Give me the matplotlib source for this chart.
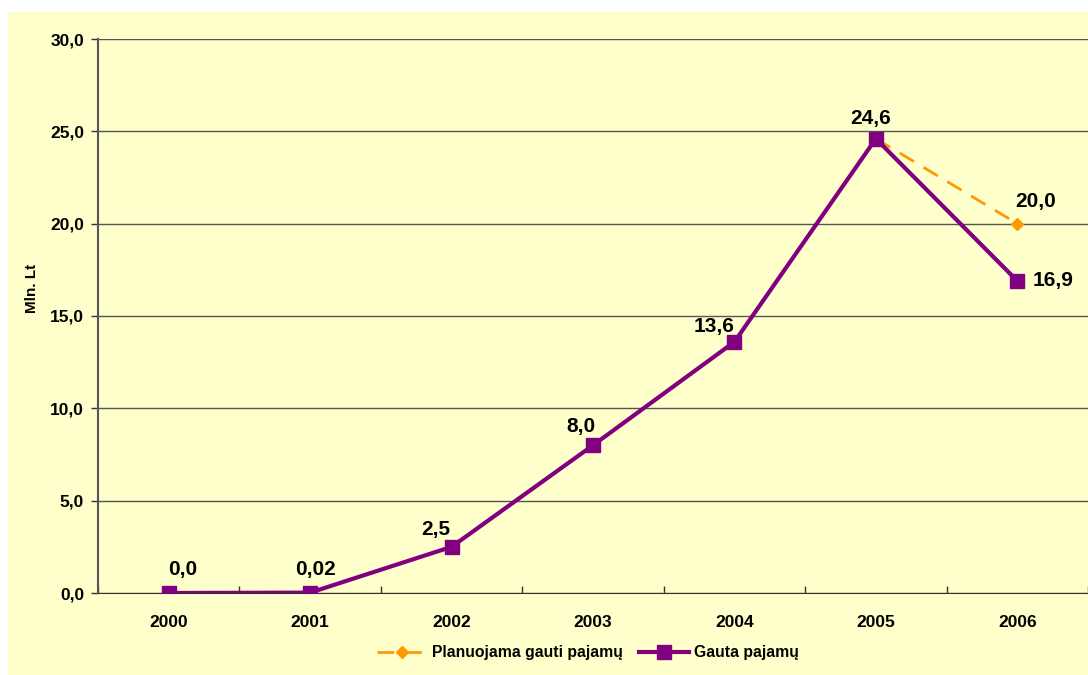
import numpy as np
import matplotlib
matplotlib.use('Agg')
import matplotlib.pyplot as plt
from matplotlib.patches import Rectangle

years = ['2000', '2001', '2002', '2003', '2004', '2005', '2006']
planned = [np.nan, np.nan, np.nan, np.nan, np.nan, 24.6, 20.0]
received = [0.0, 0.02, 2.5, 8.0, 13.6, 24.6, 16.9]
received_labels = ['0,0', '0,02', '2,5', '8,0', '13,6', '24,6', '16,9']
planned_labels = [None, None, None, None, None, None, '20,0']

plt.rcParams['font.family'] = ['Liberation Sans', 'DejaVu Sans']
plt.rcParams['font.weight'] = 'bold'

fig = plt.figure(figsize=(10.88, 6.75), dpi=100)
fig.patch.set_facecolor('white')
fig.patches.append(Rectangle((8 / 1088, 0), 1, 1 - 12 / 675, transform=fig.transFigure,
                             facecolor='#FFFFCC', edgecolor='none', zorder=-1))

ax = fig.add_axes([98 / 1088, 1 - 593 / 675, 990 / 1088, 554 / 675])
ax.set_facecolor('#FFFFCC')

x = np.arange(len(years))
ax.plot(x, planned, color='#FF9900', linestyle=(0, (6, 4)), linewidth=2,
        marker='D', markersize=6, label='Planuojama gauti pajamų', zorder=3)
ax.plot(x, received, color='#800080', linewidth=3, marker='s', markersize=10,
        label='Gauta pajamų', zorder=4)

# label offsets in points (dx, dy, ha, va)
offsets = [(10, 10, 'center', 'bottom'), (4, 10, 'center', 'bottom'),
           (-11, 6, 'center', 'bottom'), (-9, 7, 'center', 'bottom'),
           (-15, 4, 'center', 'bottom'), (-4, 8, 'center', 'bottom'),
           (11, 0, 'left', 'center')]
for i, (v, t) in enumerate(zip(received, received_labels)):
    dx, dy, ha, va = offsets[i]
    ax.annotate(t, (i, v), xytext=(dx, dy), textcoords='offset points',
                ha=ha, va=va, fontsize=15, fontweight='bold')
for i, (v, t) in enumerate(zip(planned, planned_labels)):
    if t:
        ax.annotate(t, (i, v), xytext=(13, 9), textcoords='offset points',
                    ha='center', va='bottom', fontsize=15, fontweight='bold')

ax.set_xlim(-0.5, len(years) - 0.5)
ax.set_ylim(0, 30)
ax.set_yticks(np.arange(0, 30.1, 5))
ax.set_yticklabels([f'{v:.1f}'.replace('.', ',') for v in np.arange(0, 30.1, 5)],
                   fontsize=12.5, fontweight='bold')
ax.set_xticks(x)
ax.set_xticklabels(years, fontsize=12.5, fontweight='bold')
ax.set_xticks(np.arange(-0.5, len(years), 1), minor=True)
ax.tick_params(axis='x', which='major', length=0, pad=16)
ax.tick_params(axis='x', which='minor', length=5, width=1, color='#333333', direction='in')
ax.tick_params(axis='y', length=5, width=1, color='#333333', pad=5)
ax.grid(axis='y', color='#555555', linewidth=1)
ax.set_axisbelow(True)
for s in ['top', 'right']:
    ax.spines[s].set_visible(False)
ax.spines['left'].set_color('#555555')
ax.spines['left'].set_linewidth(1.5)
ax.spines['bottom'].set_color('#333333')
fig.text(32 / 1088, 1 - 288 / 675, 'Mln. Lt', rotation=90, ha='center', va='center',
         fontsize=11, fontweight='bold')

leg = fig.legend(loc='center', bbox_to_anchor=(588 / 1088, 1 - 653 / 675), ncol=2,
                 frameon=False, fontsize=11.3, handlelength=3.2, columnspacing=1.0,
                 handletextpad=0.3)

fig.savefig('out.png', dpi=100)
